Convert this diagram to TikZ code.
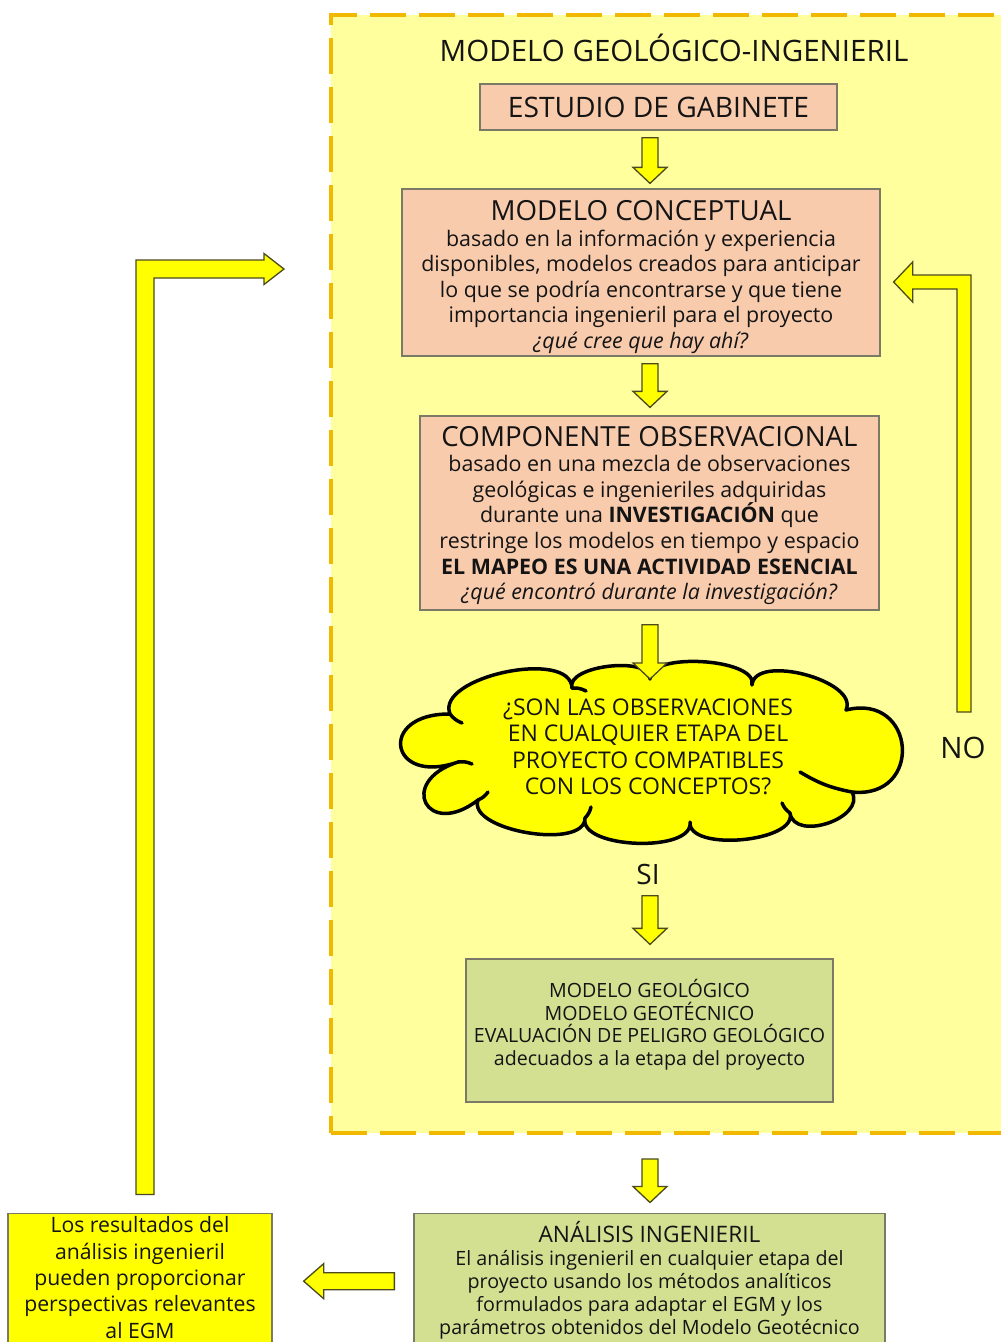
\documentclass[tikz,border=0pt]{standalone}
\usepackage{fontspec}
\setmainfont{Open Sans}
\usetikzlibrary{calc}
\definecolor{zonefill}{HTML}{FFFF9E}
\definecolor{zoneline}{HTML}{F2B800}
\definecolor{pinkfill}{HTML}{F8CBAD}
\definecolor{boxline}{HTML}{7A7A66}
\definecolor{gbfill}{HTML}{D3E092}
\definecolor{arrfill}{HTML}{FFFF00}
\definecolor{arrline}{HTML}{4A4A1E}
\definecolor{txt}{HTML}{141414}
\newcommand\blockarr[5]{%
  \coordinate (bas) at #1;
  \coordinate (bae) at #2;
  \coordinate (bah) at ($(bae)!#5pt!(bas)$);
  \draw[barrow] ($(bas)!#3pt!90:(bae)$) -- ($(bah)!#3pt!-90:(bas)$) -- ($(bah)!#4pt!-90:(bas)$) -- (bae) -- ($(bah)!#4pt!90:(bas)$) -- ($(bah)!#3pt!90:(bas)$) -- ($(bas)!#3pt!-90:(bae)$) -- cycle;
}
\newcommand\puff[3]{.. controls ($(#1)!#3!100:(#2)$) and ($(#2)!#3!-100:(#1)$) .. (#2)}
\tikzset{
  every node/.style={text=txt},
  pinkbox/.style={draw=boxline, line width=1.3pt, fill=pinkfill, align=center, inner sep=0pt},
  greenbox/.style={draw=boxline, line width=1.3pt, fill=gbfill, align=center, inner sep=0pt},
  yelbox/.style={draw=boxline, line width=1.3pt, fill=arrfill, align=center, inner sep=0pt},
  barrow/.style={draw=arrline, line width=1.3pt, fill=arrfill, line join=miter},
  zone/.style={draw=zoneline, fill=zonefill, line width=4pt, dash pattern=on 36pt off 13pt, inner sep=0pt},
  cloudline/.style={draw=black, line width=3.5pt, line cap=round, line join=round},
  bodyfont/.style={font=\fontsize{21.4}{25.6}\selectfont},
}
\begin{document}
\begin{tikzpicture}[x=1pt,y=-1pt]
\fill[white] (0,0) rectangle (1001,1342);
\useasboundingbox (0,0) rectangle (1001,1342);
\coordinate (ax) at (650,0);

\node[zone, minimum width=679pt, minimum height=1118pt] (zone) at (670.5,574) {};
\node[font=\fontsize{29.5}{31}\selectfont] (title) at (674,48) {MODELO GEOLÓGICO-INGENIERIL};

\node[pinkbox, font=\fontsize{28.2}{30}\selectfont, minimum width=357pt, minimum height=46pt] (estudio) at (658.5,107) {ESTUDIO DE GABINETE};

\node[pinkbox, bodyfont, minimum width=478pt, minimum height=167pt] (concept) at (641,272.5)
 {\rule{0pt}{29pt}{\fontsize{27.7}{29}\selectfont MODELO CONCEPTUAL}\\
  basado en la información y experiencia\\
  disponibles, modelos creados para anticipar\\
  lo que se podría encontrarse y que tiene\\
  importancia ingenieril para el proyecto\\
  \textit{¿qué cree que hay ahí?}};

\node[pinkbox, bodyfont, minimum width=459pt, minimum height=194pt] (observ) at (649.5,513)
 {\rule{0pt}{25pt}{\fontsize{27.7}{29}\selectfont COMPONENTE OBSERVACIONAL}\\
  basado en una mezcla de observaciones\\
  geológicas e ingenieriles adquiridas\\
  durante una \textbf{INVESTIGACIÓN} que\\
  restringe los modelos en tiempo y espacio\\
  \textbf{EL MAPEO ES UNA ACTIVIDAD ESENCIAL}\\
  \textit{¿qué encontró durante la investigación?}};

% cloud decision
\coordinate (c1) at (458,762);
\coordinate (c2) at (450,714);
\coordinate (c3) at (572,688);
\coordinate (c4) at (650,679);
\coordinate (c5) at (752,685);
\coordinate (c6) at (846,710);
\coordinate (c7) at (852,792);
\coordinate (c8) at (790,813);
\coordinate (c9) at (690,822);
\coordinate (c10) at (585,818);
\coordinate (c11) at (478,800);
\path[cloudline, fill=arrfill] (c1) \puff{c1}{c2}{1.5} \puff{c2}{c3}{0.32} \puff{c3}{c4}{0.3}
  \puff{c4}{c5}{0.27} \puff{c5}{c6}{0.33} \puff{c6}{c7}{0.88} \puff{c7}{c8}{0.45}
  \puff{c8}{c9}{0.3} \puff{c9}{c10}{0.3} \puff{c10}{c11}{0.3} \puff{c11}{c1}{1.5} -- cycle;
\draw[cloudline] (c1) to[bend left=15] ++(14,2);
\draw[cloudline] (c2) to[bend right=15] ++(12,9);
\draw[cloudline] (c3) to[bend left=15] ++(14,3);
\draw[cloudline] (c11) to[bend right=15] ++(10,-8);
\draw[cloudline] (c10) to[bend right=15] ++(6,-11);
\draw[cloudline] (c8) to[bend left=15] ++(-8,-10);
\draw[cloudline] (c7) to[bend left=10] ++(-52,-20);

\node[font=\fontsize{23}{26.5}\selectfont, align=center] (qt) at (648,747)
 {¿SON LAS OBSERVACIONES\\ EN CUALQUIER ETAPA DEL\\ PROYECTO COMPATIBLES\\ CON LOS CONCEPTOS?};

\node[font=\fontsize{28}{29}\selectfont] (si) at (648,874) {SI};
\node[font=\fontsize{29.5}{30}\selectfont] (no) at (963,748) {NO};

\node[greenbox, font=\fontsize{19.6}{22.5}\selectfont, minimum width=367pt, minimum height=143pt] (geo) at (649.5,1030.5)
 {MODELO GEOLÓGICO\\ MODELO GEOTÉCNICO\\ EVALUACIÓN DE PELIGRO GEOLÓGICO\\ adecuados a la etapa del proyecto\\[-6pt] \mbox{}};

\node[greenbox, anchor=north, font=\fontsize{19.7}{23}\selectfont, minimum width=471pt, minimum height=134pt] (ana) at (649.5,1212.5)
 {{\fontsize{22.7}{24}\selectfont ANÁLISIS INGENIERIL}\\
  El análisis ingenieril en cualquier etapa del\\
  proyecto usando los métodos analíticos\\
  formulados para adaptar el EGM y los\\
  parámetros obtenidos del Modelo Geotécnico};

\node[yelbox, anchor=north, font=\fontsize{21.2}{26.3}\selectfont, minimum width=264pt, minimum height=134pt] (lbox) at (140,1212.5)
 {Los resultados del\\ análisis ingenieril\\ pueden proporcionar\\ perspectivas relevantes\\ al EGM\\[-21pt] \mbox{}};

% straight block arrows
\blockarr{($(ax |- estudio.south)+(0,7)$)}{($(ax |- concept.north)+(0,-5)$)}{8}{17}{16}
\blockarr{($(ax |- concept.south)+(0,7)$)}{($(ax |- observ.north)+(0,-8)$)}{8}{17}{16}
\blockarr{($(ax |- observ.south)+(0,14)$)}{(ax |- c4)}{8}{17}{16}
\blockarr{($(ax |- si.south)+(0,8)$)}{($(ax |- geo.north)+(0,-14)$)}{8}{17}{16}
\blockarr{($(ax |- zone.south)+(0,24)$)}{($(ax |- ana.north)+(0,-10)$)}{8}{17}{16}
\blockarr{($(ana.west)+(-19,1)$)}{($(lbox.east)+(31,1)$)}{8.5}{17.5}{20}

% feedback from engineering analysis
\coordinate (fbA) at ($(lbox.north)+(5,-18)$);
\coordinate (fbB) at (fbA |- 0,269);
\coordinate (fbC) at (284,269);
\draw[barrow] ($(fbA)+(-9,0)$) -- ($(fbB)+(-9,-9)$) -- ($(fbC)+(-20,-9)$) -- ($(fbC)+(-20,-15.5)$) -- (fbC)
  -- ($(fbC)+(-20,15.5)$) -- ($(fbC)+(-20,9)$) -- ($(fbB)+(9,9)$) -- ($(fbA)+(9,0)$) -- cycle;

% NO feedback
\coordinate (nbA) at (964,712);
\coordinate (nbB) at (nbA |- 0,282);
\coordinate (nbC) at ($(concept.east)+(13,9.5)$);
\draw[barrow] ($(nbA)+(7,0)$) -- ($(nbB)+(7,-7)$) -- ($(nbC)+(19,-7)$) -- ($(nbC)+(19,-20)$) -- (nbC)
  -- ($(nbC)+(19,20)$) -- ($(nbC)+(19,7)$) -- ($(nbB)+(-7,7)$) -- ($(nbA)+(-7,0)$) -- cycle;
\end{tikzpicture}
\end{document}
